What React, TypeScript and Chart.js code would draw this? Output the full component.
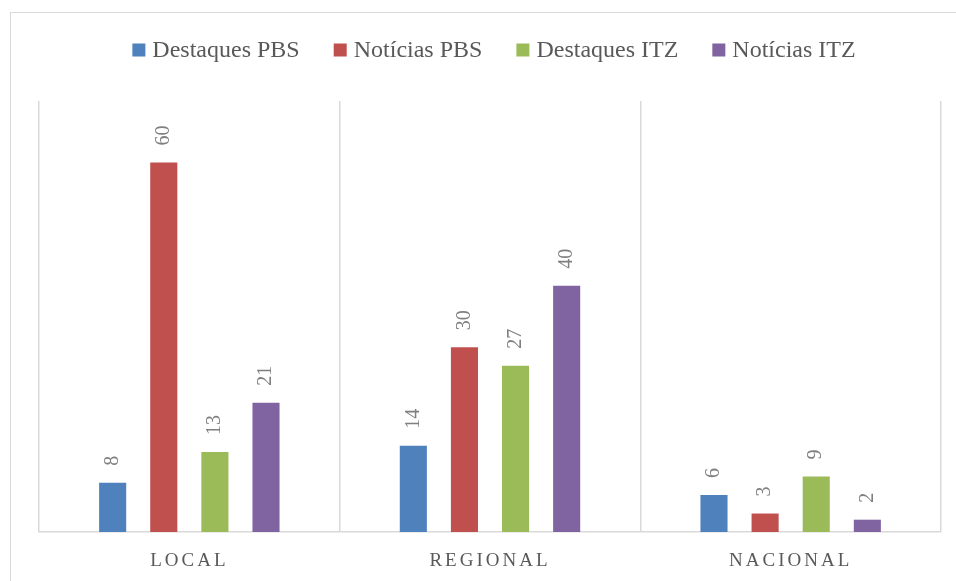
import React, { useEffect, useRef } from "react";
import { Chart, registerables } from "chart.js";

Chart.register(...registerables);

const categories = ["LOCAL", "REGIONAL", "NACIONAL"];
const seriesNames = ["Destaques PBS", "Notícias PBS", "Destaques ITZ", "Notícias ITZ"];
const destaquesPBS = [8, 14, 6];
const noticiasPBS = [60, 30, 3];
const destaquesITZ = [13, 27, 9];
const noticiasITZ = [21, 40, 2];
const colors = ["#4F81BD", "#C0504D", "#9BBB59", "#8064A2"];

const FONT = "'Liberation Serif', 'Times New Roman', serif";

const labelPlugin = {
  id: "barLabels",
  afterDatasetsDraw(chart: any) {
    const ctx = chart.ctx;
    ctx.save();
    ctx.font = `20px ${FONT}`;
    ctx.fillStyle = "#7f7f7f";
    ctx.textAlign = "left";
    ctx.textBaseline = "middle";
    chart.data.datasets.forEach((ds: any, di: number) => {
      const meta = chart.getDatasetMeta(di);
      meta.data.forEach((bar: any, i: number) => {
        const v = ds.data[i];
        ctx.save();
        ctx.translate(bar.x, bar.y - 17);
        ctx.rotate(-Math.PI / 2);
        ctx.fillText(String(v), 0, 0);
        ctx.restore();
      });
    });
    ctx.restore();
  },
};

const xLabelPlugin = {
  id: "xLabels",
  afterDraw(chart: any) {
    const ctx = chart.ctx;
    const xs = chart.scales.x;
    ctx.save();
    ctx.font = `19px ${FONT}`;
    (ctx as any).letterSpacing = "3px";
    ctx.fillStyle = "#595959";
    ctx.textAlign = "center";
    ctx.textBaseline = "middle";
    categories.forEach((c, i) => {
      ctx.fillText(c, xs.getPixelForValue(i), chart.chartArea.bottom + 29);
    });
    ctx.restore();
  },
};

const legendPlugin = {
  id: "customLegend",
  afterDraw(chart: any) {
    const ctx = chart.ctx;
    ctx.save();
    ctx.font = `24px ${FONT}`;
    ctx.textBaseline = "middle";
    ctx.textAlign = "left";
    const box = 13;
    const boxGap = 7;
    const itemGap = 34;
    const widths = chart.data.datasets.map((ds: any) => ctx.measureText(ds.label).width);
    const total = widths.reduce((a: number, w: number) => a + box + boxGap + w, 0) + itemGap * (widths.length - 1);
    let x = 494 - total / 2;
    const y = 50;
    chart.data.datasets.forEach((ds: any, i: number) => {
      ctx.fillStyle = ds.backgroundColor;
      ctx.fillRect(x, y - box / 2, box, box);
      x += box + boxGap;
      ctx.fillStyle = "#595959";
      ctx.fillText(ds.label, x, y + 1);
      x += widths[i] + itemGap;
    });
    ctx.restore();
  },
};

export default function App() {
  const ref = useRef<HTMLCanvasElement>(null);
  useEffect(() => {
    const seriesData = [destaquesPBS, noticiasPBS, destaquesITZ, noticiasITZ];
    const chart = new Chart(ref.current!, {
      type: "bar",
      data: {
        labels: categories,
        datasets: seriesNames.map((name, i) => ({
          label: name,
          data: seriesData[i],
          backgroundColor: colors[i],
          categoryPercentage: 0.68,
          barPercentage: 0.53,
        })),
      },
      options: {
        animation: false,
        responsive: false,
        maintainAspectRatio: false,
        layout: { padding: { left: 39, right: 15, top: 101, bottom: 49 } },
        plugins: {
          legend: { display: false },
          tooltip: { enabled: false },
        },
        scales: {
          x: {
            grid: { offset: true, color: "#d9d9d9", lineWidth: 1.5, drawTicks: false },
            border: { color: "#d9d9d9", width: 1.5 },
            ticks: { display: false },
          },
          y: {
            display: false,
            min: 0,
            max: 70,
          },
        },
      },
      plugins: [labelPlugin, xLabelPlugin, legendPlugin],
    });
    return () => chart.destroy();
  }, []);
  return (
    <div style={{ position: "absolute", left: 0, top: 0, width: 956, height: 581, overflow: "hidden", background: "#fff" }}>
      <div style={{ position: "absolute", left: 10, top: 12, width: 1000, height: 1000, border: "1px solid #d9d9d9" }} />
      <canvas ref={ref} width={956} height={581} style={{ position: "absolute", left: 0, top: 0 }} />
    </div>
  );
}
